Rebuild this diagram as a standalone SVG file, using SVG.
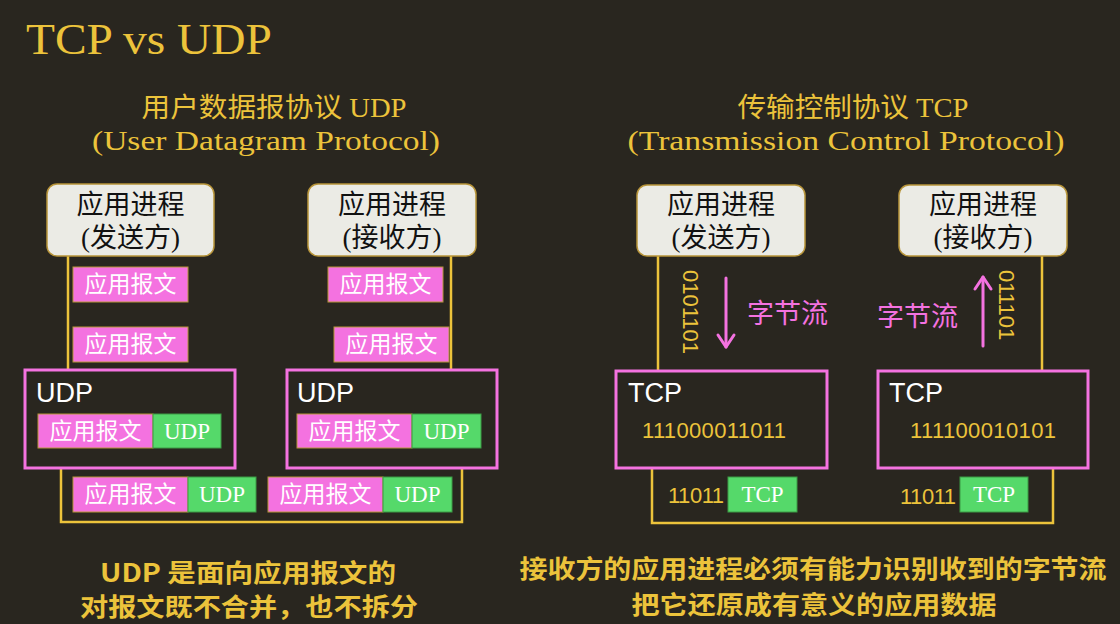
<svg xmlns="http://www.w3.org/2000/svg" width="1120" height="624" viewBox="0 0 1120 624">
<style>
.bg{fill:#29261f}
.ttl{font-family:"Liberation Serif","Noto Sans CJK SC",serif;fill:#ecc33b}
.hd{font-family:"Liberation Serif","Noto Sans CJK SC",serif;fill:#ecc33b;font-size:27px}
.app{fill:#ebebe5;stroke:#b8953a;stroke-width:1.5}
.appt{font-family:"Liberation Serif","Noto Sans CJK SC",serif;font-size:27px;fill:#111;text-anchor:middle}
.pk{fill:#f472e0;stroke:#b8953a;stroke-width:1}
.gr{fill:#55d96a;stroke:#3c9a45;stroke-width:1}
.pkt{font-family:"Liberation Serif","Noto Sans CJK SC",serif;font-size:23px;fill:#ffffff;text-anchor:middle}
.grt{font-family:"Liberation Serif",serif;font-size:23px;fill:#ffffff;text-anchor:middle}
.proto{fill:none;stroke:#f472e0;stroke-width:3}
.pl{font-family:"Liberation Sans",Arial,sans-serif;font-size:27px;fill:#ffffff}
.bin{font-family:"Liberation Sans",Arial,sans-serif;font-size:22px;fill:#ecc33b}
.ln{fill:none;stroke:#ecc33b;stroke-width:2.5}
.ar{fill:none;stroke:#f472e0;stroke-width:3;stroke-linecap:round;stroke-linejoin:round}
.bs{font-family:"Noto Sans CJK SC",sans-serif;font-size:27px;fill:#f472e0}
.note{font-family:"Noto Sans CJK SC",sans-serif;font-size:25px;font-weight:bold;fill:#ecc33b;text-anchor:middle}
</style>
<rect class="bg" x="0" y="0" width="1120" height="624"/>
<text class="ttl" x="26" y="54" font-size="45" textLength="246" lengthAdjust="spacingAndGlyphs">TCP vs UDP</text>
<text class="hd" x="274" y="117" text-anchor="middle" textLength="265" lengthAdjust="spacingAndGlyphs">用户数据报协议 UDP</text>
<text class="hd" x="266" y="150" text-anchor="middle" textLength="348" lengthAdjust="spacingAndGlyphs">(User Datagram Protocol)</text>
<text class="hd" x="853" y="117" text-anchor="middle" textLength="231" lengthAdjust="spacingAndGlyphs">传输控制协议 TCP</text>
<text class="hd" x="846" y="150" text-anchor="middle" textLength="437" lengthAdjust="spacingAndGlyphs">(Transmission Control Protocol)</text>

<g id="connectors">
<line class="ln" x1="68" y1="256" x2="68" y2="370"/>
<line class="ln" x1="451" y1="256" x2="451" y2="370"/>
<polyline class="ln" points="61,468 61,522 462,522 462,468"/>
<line class="ln" x1="658" y1="256" x2="658" y2="371"/>
<line class="ln" x1="1042" y1="256" x2="1042" y2="371"/>
<polyline class="ln" points="652,468 652,523 1053,523 1053,468"/>
<line class="ar" x1="726" y1="278" x2="726" y2="347"/>
<polyline class="ar" points="718,335 726,347 734,335"/>
<line class="ar" x1="983" y1="346" x2="983" y2="277"/>
<polyline class="ar" points="975,289 983,277 991,289"/>
</g>

<g id="udp-sender">
<rect class="app" x="47" y="184" width="167" height="72" rx="10"/>
<text class="appt" x="130.5" y="214">应用进程</text>
<text class="appt" x="130.5" y="247">(发送方)</text>
</g>
<g id="udp-receiver">
<rect class="app" x="308" y="184" width="168" height="72" rx="10"/>
<text class="appt" x="392" y="214">应用进程</text>
<text class="appt" x="392" y="247">(接收方)</text>
</g>
<g id="udp-msg1"><rect class="pk" x="73" y="267" width="115" height="35"/><text class="pkt" x="130.5" y="292">应用报文</text></g>
<g id="udp-msg2"><rect class="pk" x="73" y="327" width="115" height="35"/><text class="pkt" x="130.5" y="352">应用报文</text></g>
<g id="udp-msg3"><rect class="pk" x="328" y="267" width="115" height="35"/><text class="pkt" x="385.5" y="292">应用报文</text></g>
<g id="udp-msg4"><rect class="pk" x="334" y="327" width="115" height="35"/><text class="pkt" x="391.5" y="352">应用报文</text></g>
<g id="udp-layer-left">
<rect class="proto" x="25" y="370" width="210" height="98"/>
<text class="pl" x="36" y="402">UDP</text>
<rect class="pk" x="38" y="414" width="115" height="34"/><text class="pkt" x="95.5" y="439">应用报文</text>
<rect class="gr" x="153" y="414" width="68" height="34"/><text class="grt" x="187" y="439">UDP</text>
</g>
<g id="udp-layer-right">
<rect class="proto" x="287" y="370" width="210" height="98"/>
<text class="pl" x="297" y="402">UDP</text>
<rect class="pk" x="297" y="414" width="115" height="34"/><text class="pkt" x="354.5" y="439">应用报文</text>
<rect class="gr" x="412" y="414" width="69" height="34"/><text class="grt" x="446.5" y="439">UDP</text>
</g>
<g id="udp-pkt1">
<rect class="pk" x="73" y="477" width="115" height="35"/><text class="pkt" x="130.5" y="502">应用报文</text>
<rect class="gr" x="188" y="477" width="68" height="35"/><text class="grt" x="222" y="502">UDP</text>
</g>
<g id="udp-pkt2">
<rect class="pk" x="268" y="477" width="115" height="35"/><text class="pkt" x="325.5" y="502">应用报文</text>
<rect class="gr" x="383" y="477" width="69" height="35"/><text class="grt" x="417.5" y="502">UDP</text>
</g>

<g id="tcp-sender">
<rect class="app" x="637" y="185" width="168" height="71" rx="10"/>
<text class="appt" x="721" y="214">应用进程</text>
<text class="appt" x="721" y="247">(发送方)</text>
</g>
<g id="tcp-receiver">
<rect class="app" x="899" y="185" width="168" height="71" rx="10"/>
<text class="appt" x="983" y="214">应用进程</text>
<text class="appt" x="983" y="247">(接收方)</text>
</g>
<g id="tcp-stream-left">
<text class="bin" transform="translate(683,270) rotate(90)">0101101</text>
<text class="bs" x="747" y="323">字节流</text>
</g>
<g id="tcp-stream-right">
<text class="bin" transform="translate(999,270) rotate(90)">011101</text>
<text class="bs" x="877" y="326">字节流</text>
</g>
<g id="tcp-layer-left">
<rect class="proto" x="616" y="371" width="211" height="97"/>
<text class="pl" x="628" y="402">TCP</text>
<text class="bin" x="642" y="438" textLength="144">111000011011</text>
</g>
<g id="tcp-layer-right">
<rect class="proto" x="878" y="371" width="210" height="97"/>
<text class="pl" x="889" y="402">TCP</text>
<text class="bin" x="910" y="438" textLength="146">111100010101</text>
</g>
<g id="tcp-seg1">
<text class="bin" x="668" y="503" textLength="56">11011</text>
<rect class="gr" x="728" y="477" width="69" height="35"/><text class="grt" x="762.5" y="502">TCP</text>
</g>
<g id="tcp-seg2">
<text class="bin" x="900" y="504" textLength="56">11011</text>
<rect class="gr" x="960" y="477" width="68" height="35"/><text class="grt" x="994" y="502">TCP</text>
</g>

<text class="note" x="248" y="582" textLength="296" lengthAdjust="spacingAndGlyphs">UDP 是面向应用报文的</text>
<text class="note" x="249" y="616" textLength="338" lengthAdjust="spacingAndGlyphs">对报文既不合并，也不拆分</text>
<text class="note" x="813" y="578" textLength="587" lengthAdjust="spacingAndGlyphs">接收方的应用进程必须有能力识别收到的字节流</text>
<text class="note" x="814" y="614" textLength="365" lengthAdjust="spacingAndGlyphs">把它还原成有意义的应用数据</text>
</svg>
